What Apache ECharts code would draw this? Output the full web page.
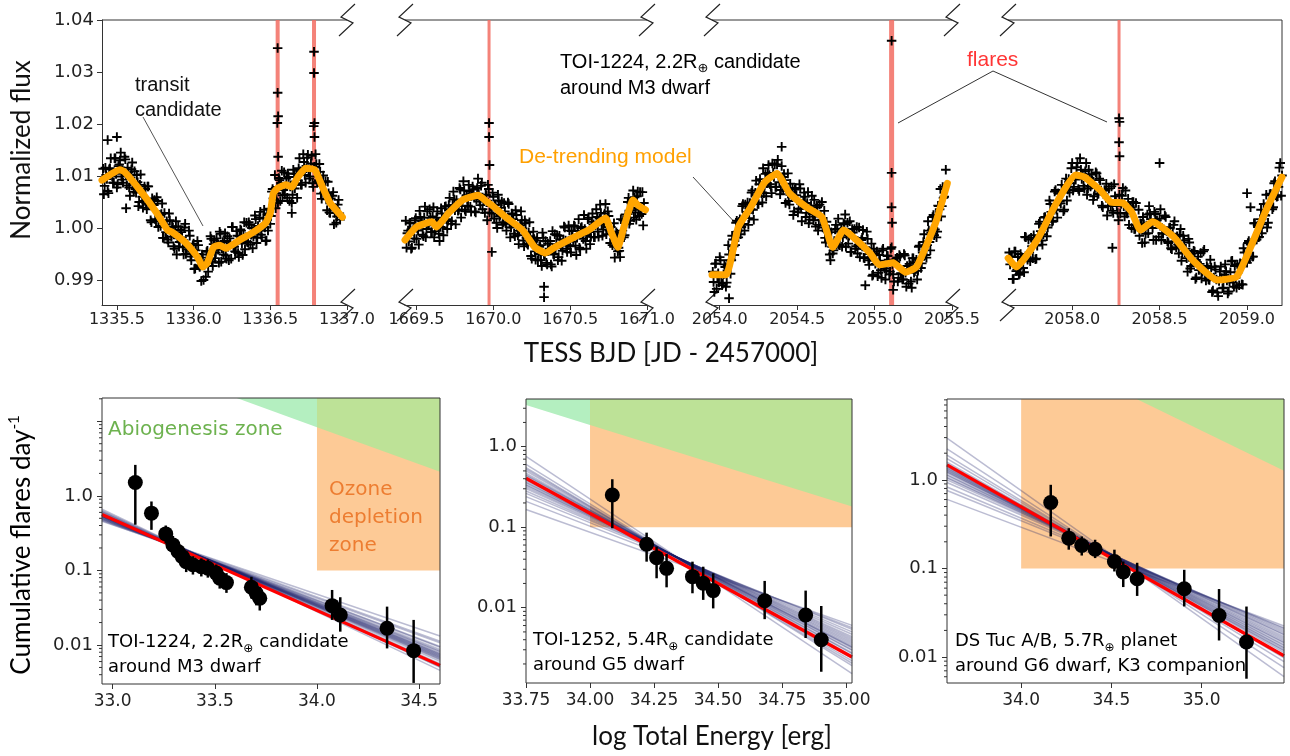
<!DOCTYPE html>
<html><head><meta charset="utf-8">
<script src="https://cdn.jsdelivr.net/npm/echarts/dist/echarts.min.js"></script>
<style>html,body{margin:0;padding:0;background:#fff}#c{width:1290px;height:756px}</style>
</head><body><div id="c"></div>
<script>
// ================= DATA =================
// Light curves: regular 0.01-day cadence (two interleaved sets), flux stored as (flux-1) in parts per thousand
const lc1_start = 1335.41, lc1_step = 0.01;
const lc1_ppt = [11.4,8.1,10.2,7.1,11.3,13.4,9.9,8.7,13.4,7.8,
11.9,13.0,9.9,8.7,13.7,10.3,11.6,7.8,9.7,12.6,
7.0,7.5,10.2,4.2,8.3,6.9,3.9,8.0,4.7,8.0,
4.5,1.5,5.7,4.4,1.7,5.9,0.2,2.5,2.7,-1.9,
2.9,-0.8,-2.2,2.8,-0.8,0.3,-3.5,-0.4,-5.1,0.3,
-2.7,-0.8,-3.7,0.1,-5.0,-3.1,-0.5,-5.5,-4.6,-3.0,
-7.8,-5.0,-3.3,-7.5,-10.2,-5.7,-7.1,-9.4,-4.4,-6.6,
-1.6,-6.4,-3.1,-5.8,-2.0,-4.2,-0.7,-6.5,-2.7,-2.5,
-5.3,-1.6,-6.2,-3.0,0.2,-3.5,-4.5,-0.6,-4.8,-1.6,
-0.5,-5.2,1.1,-1.8,-2.7,1.1,-3.2,0.0,-1.7,2.4,
-2.9,0.4,2.0,-1.3,0.2,3.5,-2.5,2.8,2.5,0.8,
7.0,5.7,10.2,6.7,4.8,9.2,8.7,6.3,10.7,8.0,
5.8,9.8,8.0,4.8,11.2,7.6,10.4,9.2,13.4,8.3,
11.2,12.7,8.7,13.5,11.3,9.9,13.9,7.9,11.8,12.3,
8.8,12.3,6.6,8.8,6.8,9.0,3.4,6.7,2.9,4.5,
6.9,2.9,1.0,4.5,2.8];
const lc1b_start = 1335.415, lc1b_step = 0.01;
const lc1b_ppt = [6.5,11.6,9.4,6.7,11.5,10.5,8.7,13.4,10.4,8.4,
12.2,14.5,9.3,10.9,13.2,8.2,10.7,6.2,11.3,8.5,
10.9,6.8,8.8,5.0,10.3,6.0,5.2,7.5,3.6,8.0,
4.6,1.1,4.6,5.4,1.3,5.2,1.7,0.4,4.7,-1.9,
0.7,1.3,-2.8,1.5,-1.7,0.1,-4.0,1.3,-2.0,-3.6,
-0.4,-1.8,-5.1,0.8,-4.1,-3.5,-1.5,-6.2,-3.3,-7.9,
-4.3,-2.5,-7.2,-7.2,-5.1,-10.0,-6.9,-4.6,-8.4,-6.0,
-2.1,-7.3,-2.4,-4.7,-2.9,-6.7,-1.1,-3.9,-5.1,-1.0,
-5.9,-3.6,-2.0,-5.9,0.2,-3.6,-4.6,-1.5,-5.6,-0.3,
-3.0,-1.5,-4.1,1.0,-2.8,0.6,-1.3,-3.9,0.0,1.7,
-1.9,-0.4,3.1,-1.8,1.8,0.1,-2.4,-0.5,3.7,2.3,
7.5,5.4,3.8,7.9,9.6,5.2,11.0,7.3,6.4,9.5,
10.5,5.2,8.2,6.4,10.4,8.6,5.8,11.5,10.9,8.3,
14.2,10.2,11.5,14.1,9.5,12.4,8.6,11.7,14.2,8.9,
9.2,10.8,5.6,10.1,6.8,5.5,8.9,3.0,5.7,6.2,
0.7,3.8,2.2,5.4,1.6];
const lc2_start = 1669.43, lc2_step = 0.01;
const lc2_ppt = [1.4,-1.0,-2.6,1.0,-3.8,-0.2,1.5,-2.1,-0.5,3.3,
0.6,-1.3,2.0,-1.8,3.2,0.5,2.0,-0.8,4.0,-0.6,
2.0,1.1,-2.5,3.8,0.1,1.8,4.2,-0.2,4.4,3.6,
1.3,7.0,3.4,5.4,3.3,7.7,2.0,5.4,7.2,3.2,
5.4,8.3,4.1,6.7,7.4,3.2,5.5,9.5,5.1,8.1,
3.6,5.6,6.4,1.5,7.5,4.2,2.8,6.0,4.4,1.0,
6.4,2.2,3.9,0.6,4.8,0.9,1.7,4.6,-1.8,2.8,
1.7,-1.6,2.5,-1.4,-0.5,3.2,-0.1,-3.5,0.9,-3.0,
-0.8,-1.6,-5.9,-0.7,-4.5,-2.4,-6.2,-3.6,-6.2,-0.9,
-5.2,-2.5,-7.0,-4.3,-2.5,-7.4,-5.0,-1.2,-3.1,-6.2,
-1.5,-3.4,-4.4,0.3,-2.4,-4.6,0.5,-3.5,-0.6,-2.6,
0.3,-5.2,-0.5,-3.8,0.0,-1.1,2.5,-2.5,-1.4,2.0,
-3.1,1.2,0.7,-1.8,3.6,-0.7,1.8,2.9,-1.5,1.3,
4.6,0.2,2.3,-2.9,-1.0,-0.7,-5.7,-0.8,-4.5,-4.4,
1.7,-0.5,-1.8,2.6,1.8,5.8,1.4,3.4,7.2,5.9,
1.6,7.0,2.3,3.5,6.9,4.8];
const lc2b_start = 1669.435, lc2b_step = 0.01;
const lc2b_ppt = [-3.8,-0.5,0.9,-4.0,-0.6,-2.0,1.9,-0.1,-3.2,2.1,
1.3,-1.6,4.1,-0.2,0.9,3.6,-0.8,2.2,-1.8,0.9,
3.2,-1.1,0.2,2.8,-1.4,4.1,1.7,1.4,5.8,0.8,
4.4,5.5,0.7,4.4,3.5,7.4,4.2,9.0,3.5,6.3,
4.3,7.1,3.1,8.0,5.8,3.0,7.7,6.6,4.4,8.7,
5.3,2.9,6.3,8.3,3.0,4.5,6.8,1.8,4.5,0.0,
5.3,2.5,5.1,1.1,3.2,-0.5,4.9,0.8,0.1,2.6,
-1.1,3.4,0.2,-3.1,0.5,1.5,-2.4,1.5,-1.9,-3.2,
1.1,-5.4,-2.7,-2.1,-6.1,-1.9,-5.0,-3.3,-7.3,-1.9,
-5.1,-6.7,-3.0,-4.0,-7.0,-0.6,-5.1,-3.9,-1.4,-5.6,
-2.2,-6.3,-2.2,0.1,-4.0,-3.3,-0.5,-4.7,-1.7,0.5,
-3.4,-1.6,1.7,-4.1,0.2,-2.1,-0.2,-4.0,1.7,-0.8,
-1.7,2.8,-1.8,0.5,2.1,-1.7,4.5,0.7,-0.3,2.8,
-1.2,3.2,-0.5,0.2,-3.3,0.9,-3.6,-1.1,-3.8,-5.6,
-1.0,1.5,-1.4,0.8,5.0,0.8,4.9,3.9,2.0,3.0,
6.1,3.8,6.9,2.7,0.5];
const lc3_start = 2053.96, lc3_step = 0.01;
const lc3_ppt = [-10.4,-6.9,-11.7,-8.7,-5.6,-9.5,-10.7,-7.0,-11.3,-7.2,
-5.1,-8.8,-1.5,-3.5,-3.3,1.4,-1.8,1.7,0.2,4.6,
-0.5,3.1,4.9,1.9,3.6,7.2,1.6,6.8,6.3,4.6,
9.4,6.7,11.5,8.1,6.1,10.6,10.2,7.9,12.4,9.8,
7.9,12.2,10.0,6.5,11.9,7.3,9.2,7.1,10.5,4.5,
6.9,7.7,3.2,7.7,5.4,3.7,7.6,1.3,5.1,6.0,
2.9,6.9,1.6,4.3,2.7,5.4,0.3,4.0,0.6,2.4,
5.0,0.5,-1.9,1.2,-0.9,-5.1,-0.8,-4.9,-2.5,0.6,
-0.2,-3.2,-0.7,-3.6,0.9,2.6,-1.3,-3.0,1.3,-4.6,
-0.9,-0.2,-3.5,-4.9,0.1,-3.3,-1.9,-5.7,-3.7,-0.7,
-6.2,-5.6,-3.0,-9.0,-4.9,-6.3,-9.3,-5.2,-8.1,-4.3,
-7.4,-9.9,-5.3,-6.1,-8.4,-3.7,-8.9,-6.4,-5.9,-10.3,
-5.2,-8.7,-9.9,-5.0,-8.6,-7.3,-10.7,-7.2,-11.5,-5.8,
-8.3,-6.1,-8.2,-3.4,-7.7,-4.7,-1.2,-5.2,-3.3,-0.5,
-4.3,-0.3,2.5,-0.3,-1.8,4.3,3.6,2.2,7.9,6.0,
11.2];
const lc3b_start = 2053.955, lc3b_step = 0.01;
const lc3b_ppt = [-8.4,-12.3,-6.8,-9.4,-10.5,-6.2,-11.0,-8.9,-7.5,-10.5,
-3.3,-6.2,-6.2,-2.2,-5.2,1.0,-0.7,1.2,-1.2,4.2,
0.8,4.5,2.9,0.6,4.8,6.8,3.5,5.3,9.1,4.6,
8.4,7.0,4.9,6.7,10.4,8.6,12.1,8.4,6.7,10.6,
12.2,7.9,13.1,8.8,7.3,9.8,10.4,4.8,7.4,5.2,
8.5,5.9,2.5,7.4,6.3,3.0,8.4,3.7,4.5,6.8,
2.1,4.8,0.9,3.8,6.2,1.5,2.2,4.3,-0.5,4.5,
1.6,0.1,3.3,-2.8,-0.3,-0.3,-6.2,-3.6,-4.3,-0.3,
-3.2,1.8,-3.3,-0.2,-1.8,0.7,-3.6,1.0,-1.5,-4.6,
-0.2,-1.7,-4.0,0.2,-3.2,-5.6,-2.3,-0.4,-5.8,-4.3,
-2.1,-7.1,-4.6,-9.2,-4.0,-6.9,-4.5,-8.6,-6.3,-9.6,
-4.0,-7.8,-8.2,-5.4,-8.9,-4.0,-7.0,-10.3,-6.6,-5.7,
-9.6,-5.5,-8.8,-9.9,-5.3,-11.3,-8.0,-6.9,-10.3,-5.8,
-8.6,-6.6,-9.9,-3.6,-6.1,-6.8,-2.7,-3.3,-5.7,1.3,
-2.7,-0.9,2.1,-1.4,2.5,-0.7,4.2,7.5,4.2,5.8];
const lc4_start = 2057.64, lc4_step = 0.01;
const lc4_ppt = [-4.7,-5.5,-9.8,-4.5,-8.3,-5.6,-8.8,-5.6,-7.7,-1.7,
-5.5,-2.2,-6.4,-3.5,-1.4,-6.0,-3.4,0.8,-0.6,-3.2,
2.0,0.6,0.1,5.3,3.1,1.4,7.0,3.5,6.7,5.1,
8.3,3.2,8.2,5.3,9.4,8.6,12.5,7.9,9.3,12.5,
7.1,11.2,10.4,7.6,12.5,7.6,9.6,10.3,5.4,7.7,
10.5,6.6,9.2,4.3,6.5,7.2,2.4,7.6,4.2,3.3,
8.4,5.2,2.9,6.4,4.6,7.7,2.2,2.9,5.6,4.2,
0.0,5.0,-0.2,0.5,3.5,0.9,-2.9,0.7,-1.1,2.6,
4.2,1.7,0.0,3.1,-2.3,0.8,1.8,-2.3,-1.1,2.4,
-0.6,-2.9,0.1,-4.1,0.6,-2.6,-1.6,-4.9,-0.2,-4.8,
-2.4,-4.0,-8.4,-2.8,-7.3,-6.3,-4.5,-9.5,-5.5,-6.9,
-9.7,-4.5,-8.7,-7.3,-9.9,-6.1,-12.3,-9.5,-8.0,-12.4,
-10.2,-7.4,-11.6,-9.0,-8.3,-12.6,-10.3,-6.4,-10.5,-7.3,
-11.5,-8.5,-6.8,-10.8,-3.9,-6.2,-6.7,-2.5,-3.2,-5.5,
0.9,-2.2,0.5,-1.7,3.5,0.7,2.5,6.4,1.0,6.5,
6.3,4.0,9.0,6.0,7.9,12.5,10.1];
const lc4b_start = 2057.645, lc4b_step = 0.01;
const lc4b_ppt = [-7.0,-5.5,-9.8,-4.5,-8.0,-9.0,-5.0,-5.8,-8.5,-1.8,
-6.1,-4.7,-1.9,-5.8,-2.2,-5.9,-1.6,1.2,-2.4,-1.2,
2.1,-1.6,1.9,4.6,1.2,3.5,7.3,2.0,6.6,4.7,
6.9,3.5,9.5,7.4,6.8,11.5,7.2,9.8,11.7,7.5,
13.4,9.4,8.1,10.9,6.4,11.2,8.0,9.2,6.1,10.7,
6.5,9.5,7.2,4.0,7.3,8.5,4.2,5.1,8.0,2.9,
6.1,4.2,1.5,2.8,6.2,4.2,7.2,2.8,0.6,3.9,
5.0,-0.2,4.8,0.2,-1.5,0.8,2.1,-2.8,0.5,-1.0,
2.8,0.7,-2.3,2.7,1.5,-1.7,3.6,-1.0,-0.3,2.1,
-2.6,0.0,-3.9,-1.1,1.3,-3.7,-3.2,-1.3,-6.3,-1.5,
-4.7,-5.8,-2.1,-7.8,-4.9,-4.4,-9.8,-6.6,-8.1,-4.8,
-8.4,-4.2,-10.1,-7.7,-10.0,-7.6,-12.0,-7.4,-9.9,-13.1,
-8.4,-9.6,-11.5,-7.0,-10.1,-12.2,-8.5,-6.3,-11.3,-9.6,
-7.0,-11.0,-7.4,-10.9,-4.7,-6.4,-2.9,-5.9,-2.9,-5.5,
0.9,-2.2,-1.8,1.7,-1.0,4.6,2.4,0.1,4.7,6.6,
3.6,8.6,6.3,6.1,11.6,6.2];

// flare points and outliers [time, ppt]
const lc1_extra = [[1336.548,34.6],[1336.548,26.0],[1336.551,21.5],[1336.546,20.2],[1336.551,13.7],[1336.785,33.9],[1336.785,29.8],[1336.788,20.2],[1336.783,19.6],[1336.788,17.5],[1335.44,16.9],[1335.50,17.5],[1335.56,3.8],[1336.64,2.9]];
const lc2_extra = [[1669.972,20.2],[1669.972,17.5],[1669.975,12.1],[1670.33,-11.3],[1670.33,-13.3],[1669.99,-4.6]];
const lc3_extra = [[2055.11,36.0],[2055.11,10.6],[2055.11,4.0],[2055.113,1.0],[2054.06,-13.5],[2054.94,-11.0],[2055.12,-11.9],[2054.40,15.6]];
const lc4_extra = [[2058.268,21.1],[2058.271,20.4],[2058.268,16.5],[2058.271,13.8],[2058.50,12.5],[2059.00,6.7],[2059.02,4.0],[2058.23,-3.8]];

// de-trending model knots
const lc1_model_t = [1335.403,1335.52,1335.55,1335.65,1335.76,1335.83,1335.86,1335.95,1336.03,1336.06,1336.09,1336.13,1336.17,1336.21,1336.30,1336.38,1336.47,1336.50,1336.52,1336.55,1336.60,1336.64,1336.68,1336.73,1336.79,1336.84,1336.89,1336.97];
const lc1_model_ppt = [9.2,11.2,10.8,7.3,2.9,-0.4,-0.8,-2.9,-5.8,-7.5,-6.7,-3.7,-3.3,-3.9,-2.3,-1.0,1.0,2.9,6.7,7.7,8.3,7.9,9.8,11.5,11.2,7.9,4.8,2.1];
const lc2_model_t = [1669.425,1669.50,1669.60,1669.63,1669.71,1669.80,1669.90,1669.96,1669.99,1670.08,1670.19,1670.27,1670.34,1670.40,1670.53,1670.62,1670.73,1670.77,1670.81,1670.85,1670.91,1670.94,1670.99];
const lc2_model_ppt = [-2.3,0.2,1.2,0.2,2.9,5.4,6.3,5.0,4.4,2.1,-0.4,-3.7,-4.8,-3.7,-1.7,-0.4,1.9,-1.0,-3.7,0.2,5.4,4.4,3.5];
const lc3_model_t = [2053.95,2054.04,2054.12,2054.20,2054.29,2054.37,2054.45,2054.56,2054.66,2054.73,2054.80,2054.86,2054.97,2055.03,2055.12,2055.20,2055.27,2055.33,2055.40,2055.47];
const lc3_model_ppt = [-9.0,-9.0,0.2,4.0,8.8,10.5,6.7,4.0,2.1,-3.7,-0.4,-1.7,-4.8,-7.1,-6.7,-8.5,-7.5,-3.7,1.5,8.6];
const lc4_model_t = [2057.634,2057.68,2057.80,2057.91,2058.02,2058.07,2058.16,2058.22,2058.29,2058.34,2058.39,2058.46,2058.58,2058.69,2058.83,2058.94,2059.02,2059.11,2059.20];
const lc4_model_ppt = [-5.8,-7.5,-2.3,4.8,10.2,9.8,7.3,5.0,4.8,3.1,-0.4,1.2,-1.7,-6.2,-10.0,-9.4,-3.7,3.5,9.8];

const flares1 = [1336.548, 1336.785];
const flares2 = [1669.972];
const flares3 = [2055.11];
const flares4 = [2058.268];

// tick labels
const fluxTicks = [0.99, 1.00, 1.01, 1.02, 1.03, 1.04];
const bjdTicks1 = [1335.5, 1336.0, 1336.5, 1337.0];
const bjdTicks2 = [1669.5, 1670.0, 1670.5, 1671.0];
const bjdTicks3 = [2054.0, 2054.5, 2055.0, 2055.5];
const bjdTicks4 = [2058.0, 2058.5, 2059.0];
const eTicksA = [33.0, 33.5, 34.0, 34.5];
const eTicksB = [33.75, 34.00, 34.25, 34.50, 34.75, 35.00];
const eTicksC = [34.0, 34.5, 35.0];
const rateTicks = [0.01, 0.1, 1, 10];

// Flare frequency distributions
const A_energy = [33.111,33.19,33.26,33.295,33.32,33.341,33.36,33.393,33.434,33.466,33.507,33.524,33.557,33.679,33.703,33.72,34.074,34.114,34.343,34.473];
const A_rate = [1.51,0.586,0.309,0.22,0.179,0.153,0.131,0.119,0.112,0.107,0.092,0.0785,0.0687,0.0595,0.0494,0.0424,0.0337,0.0253,0.0168,0.0084];
const A_lo = [0.41,0.35,0.23,0.16,0.13,0.11,0.095,0.088,0.083,0.08,0.068,0.057,0.05,0.042,0.034,0.029,0.0217,0.0151,0.009,0.0031];
const A_hi = [2.6,0.84,0.4,0.29,0.235,0.2,0.175,0.155,0.145,0.14,0.12,0.105,0.092,0.082,0.069,0.06,0.0547,0.0437,0.0327,0.0217];
const B_energy = [34.087,34.221,34.26,34.299,34.40,34.442,34.481,34.682,34.842,34.903];
const B_rate = [0.251,0.0613,0.0418,0.0308,0.0243,0.0201,0.0163,0.0122,0.0081,0.0040];
const B_lo = [0.097,0.0373,0.0232,0.0179,0.0151,0.0125,0.0098,0.0072,0.0042,0.0016];
const B_hi = [0.394,0.0855,0.0573,0.0465,0.0373,0.0323,0.0267,0.0215,0.0163,0.0105];
const C_energy = [34.164,34.264,34.336,34.41,34.517,34.566,34.643,34.904,35.097,35.249];
const C_rate = [0.555,0.22,0.182,0.165,0.12,0.0912,0.0767,0.059,0.0295,0.0148];
const C_lo = [0.23,0.163,0.14,0.131,0.0925,0.0617,0.049,0.0373,0.0154,0.0057];
const C_hi = [0.88,0.285,0.23,0.211,0.163,0.12,0.116,0.0966,0.0586,0.0372];

// best-fit power laws (endpoints: energy, rate)
const fitA_E = [32.948, 34.602], fitA_R = [0.562, 0.00533];
const fitB_E = [33.75, 35.023], fitB_R = [0.405, 0.00244];
const fitC_E = [33.589, 35.457], fitC_R = [1.476, 0.01035];

// posterior samples (log10 rate at the two panel edges)
const postA_logL = [-0.27,-0.25,-0.29,-0.23,-0.31,-0.26,-0.28,-0.21,-0.33,-0.27,-0.24,-0.30,-0.18,-0.34,-0.26,-0.28,-0.22,-0.29,-0.25,-0.31,-0.27,-0.20,-0.32,-0.26];
const postA_logR = [-2.14,-2.20,-2.09,-2.25,-2.03,-2.17,-2.12,-2.30,-1.97,-2.15,-2.22,-2.06,-2.34,-1.88,-2.18,-2.11,-2.27,-2.08,-2.19,-2.02,-2.13,-2.29,-1.95,-2.16];
const postB_logL = [-0.42,-0.36,-0.48,-0.30,-0.55,-0.40,-0.45,-0.22,-0.62,-0.38,-0.50,-0.33,-0.12,-0.78,-0.44,-0.28,-0.58,-0.41,-0.35,-0.47,-0.26,-0.68,-0.39,-0.52];
const postB_logR = [-2.48,-2.56,-2.40,-2.63,-2.33,-2.50,-2.44,-2.72,-2.27,-2.53,-2.38,-2.60,-2.82,-2.22,-2.46,-2.66,-2.30,-2.49,-2.57,-2.42,-2.69,-2.25,-2.52,-2.36];
const postC_logL = [0.10,0.15,0.05,0.20,0.00,0.12,0.08,0.28,-0.08,0.14,0.03,0.18,0.47,-0.22,0.11,0.06,0.24,-0.03,0.16,0.09,0.35,-0.12,0.13,0.02];
const postC_logR = [-1.84,-1.92,-1.77,-1.98,-1.72,-1.87,-1.81,-2.05,-1.68,-1.90,-1.75,-1.95,-2.22,-1.65,-1.86,-1.79,-2.01,-1.70,-1.93,-1.83,-2.12,-1.67,-1.89,-1.74];

// habitability zones: ozone depletion (E >= ozE, rate >= ozR), abiogenesis boundary line (two points)
const zoneA_oz = [34.0, 0.1], zoneA_abioE = [33.607, 34.602], zoneA_abioR = [20.5, 2.1];
const zoneB_oz = [34.0, 0.1], zoneB_abioE = [33.75, 35.016], zoneB_abioR = [3.3, 0.183];
const zoneC_oz = [34.0, 0.1], zoneC_abioE = [34.64, 35.457], zoneC_abioR = [8.18, 1.27];

// ================= LAYOUT / BUILD =================
const TOP_Y = [0.98519, 1.04];
const TOP = [
  {g:[102,20,245,285], x:[1335.403,1337.0], ticks:bjdTicks1, sets:[[lc1_start,lc1_step,lc1_ppt],[lc1b_start,lc1b_step,lc1b_ppt]], ex:lc1_extra, mt:lc1_model_t, mf:lc1_model_ppt, fl:flares1, fw:4},
  {g:[405,20,242,285], x:[1669.425,1671.0], ticks:bjdTicks2, sets:[[lc2_start,lc2_step,lc2_ppt],[lc2b_start,lc2b_step,lc2b_ppt]], ex:lc2_extra, mt:lc2_model_t, mf:lc2_model_ppt, fl:flares2, fw:3},
  {g:[712,20,240,285], x:[2053.95,2055.5], ticks:bjdTicks3, sets:[[lc3_start,lc3_step,lc3_ppt],[lc3b_start,lc3b_step,lc3b_ppt]], ex:lc3_extra, mt:lc3_model_t, mf:lc3_model_ppt, fl:flares3, fw:5},
  {g:[1008,20,274,285], x:[2057.633,2059.2], ticks:bjdTicks4, sets:[[lc4_start,lc4_step,lc4_ppt],[lc4b_start,lc4b_step,lc4b_ppt]], ex:lc4_extra, mt:lc4_model_t, mf:lc4_model_ppt, fl:flares4, fw:3}
];
const BOT = [
  {g:[102,398,338,286], x:[32.948,34.602], y:[0.0030,20.5], ticks:eTicksA, dec:1, E:A_energy, R:A_rate, lo:A_lo, hi:A_hi, fE:fitA_E, fR:fitA_R, pL:postA_logL, pR:postA_logR, oz:zoneA_oz, aE:zoneA_abioE, aR:zoneA_abioR},
  {g:[526,399,326,284], x:[33.75,35.023], y:[0.00116,3.91], ticks:eTicksB, dec:2, E:B_energy, R:B_rate, lo:B_lo, hi:B_hi, fE:fitB_E, fR:fitB_R, pL:postB_logL, pR:postB_logR, oz:zoneB_oz, aE:zoneB_abioE, aR:zoneB_abioR},
  {g:[947,399,337,284], x:[33.589,35.457], y:[0.0051,8.18], ticks:eTicksC, dec:1, E:C_energy, R:C_rate, lo:C_lo, hi:C_hi, fE:fitC_E, fR:fitC_R, pL:postC_logL, pR:postC_logR, oz:zoneC_oz, aE:zoneC_abioE, aR:zoneC_abioR}
];

const AXC = '#333', LBL = '#222', TF = 'DejaVu Sans';
const plusSym = 'path://M4,0H6V4H10V6H6V10H4V6H0V4H4Z';
const ppt = v => 1 + v / 1000;
const grids = [], xAxes = [], yAxes = [], series = [], graphics = [];

TOP.forEach((p, k) => {
  grids.push({left:p.g[0], top:p.g[1], width:p.g[2], height:p.g[3], show:false});
  xAxes.push({gridIndex:k, type:'value', min:p.x[0], max:p.x[1],
    axisLine:{show:true, onZero:false, lineStyle:{color:AXC, width:1}},
    axisTick:{show:true, customValues:p.ticks, length:5, lineStyle:{color:AXC}},
    axisLabel:{show:true, customValues:p.ticks, formatter:v => v.toFixed(1), fontFamily:TF, fontSize:16, color:LBL, margin:7},
    splitLine:{show:false}});
  yAxes.push({gridIndex:k, type:'value', min:TOP_Y[0], max:TOP_Y[1],
    axisLine:{show:k === 0, onZero:false, lineStyle:{color:AXC}},
    axisTick:{show:k === 0, customValues:fluxTicks, length:5, lineStyle:{color:AXC}},
    axisLabel:{show:k === 0, customValues:fluxTicks, formatter:v => v.toFixed(2), fontFamily:TF, fontSize:18, color:LBL, margin:8},
    splitLine:{show:false}});
  p.fl.forEach(t => series.push({type:'line', xAxisIndex:k, yAxisIndex:k, data:[[t, TOP_Y[0]], [t, TOP_Y[1]]],
    symbol:'none', silent:true, z:1, lineStyle:{color:'rgba(242,108,98,0.85)', width:p.fw}}));
  p.sets.forEach(s => series.push({type:'scatter', xAxisIndex:k, yAxisIndex:k, symbol:plusSym, symbolSize:9.5, silent:true, z:2,
    itemStyle:{color:'#000', opacity:1}, data:s[2].map((v, i) => [s[0] + i * s[1], ppt(v)])}));
  series.push({type:'scatter', xAxisIndex:k, yAxisIndex:k, symbol:plusSym, symbolSize:9.5, silent:true, z:2,
    itemStyle:{color:'#000', opacity:1}, data:p.ex.map(d => [d[0], ppt(d[1])])});
  series.push({type:'line', xAxisIndex:k, yAxisIndex:k, symbol:'none', silent:true, z:3, smooth:0.15,
    lineStyle:{color:'#FFA500', width:7, join:'round', cap:'round'}, data:p.mt.map((t, i) => [t, ppt(p.mf[i])])});
  graphics.push({type:'line', silent:true, shape:{x1:p.g[0], y1:p.g[1], x2:p.g[0] + p.g[2], y2:p.g[1]}, style:{stroke:AXC, lineWidth:1}});
});
graphics.push({type:'line', silent:true, shape:{x1:1282, y1:20, x2:1282, y2:305}, style:{stroke:AXC, lineWidth:1}});
function zz(cx, cy) {
  graphics.push({type:'polyline', silent:true, shape:{points:[[cx + 8, cy - 16], [cx - 6, cy - 3], [cx + 6, cy + 3], [cx - 8, cy + 16]]},
    style:{stroke:'#222', lineWidth:1.2, fill:null}});
}
[347, 405, 647, 712, 952, 1008].forEach(x => { zz(x, 20); zz(x, 305); });

function zoneItem(p) {
  return function (params, api) {
    const cs = params.coordSys;
    const L = cs.x, Rr = cs.x + cs.width, T = cs.y;
    const q0 = api.coord([p.aE[0], p.aR[0]]);
    const q1 = api.coord([p.aE[1], p.aR[1]]);
    const ly = X => q0[1] + (q1[1] - q0[1]) * (X - q0[0]) / (q1[0] - q0[0]);
    const xi = q0[0] + (T - q0[1]) * (q1[0] - q0[0]) / (q1[1] - q0[1]);
    const oz = api.coord([p.oz[0], p.oz[1]]);
    const region = (xl, xr) => {
      const s = Math.max(xl, xi);
      if (s >= xr) return null;
      return [[s, Math.max(T, ly(s))], [xr, ly(xr)], [xr, T], [s, T]];
    };
    const ch = [{type:'rect', shape:{x:oz[0], y:T, width:Rr - oz[0], height:oz[1] - T}, style:{fill:'#FDCA96'}}];
    const m = region(L, oz[0]);
    if (m) ch.push({type:'polygon', shape:{points:m}, style:{fill:'#B4EFC0'}});
    const o = region(oz[0], Rr);
    if (o) ch.push({type:'polygon', shape:{points:o}, style:{fill:'#BDE297'}});
    return {type:'group', children:ch};
  };
}

BOT.forEach((p, j) => {
  const gi = 4 + j;
  grids.push({left:p.g[0], top:p.g[1], width:p.g[2], height:p.g[3], show:false});
  xAxes.push({gridIndex:gi, type:'value', min:p.x[0], max:p.x[1],
    axisLine:{show:false},
    axisTick:{show:true, customValues:p.ticks, length:5, lineStyle:{color:AXC}},
    axisLabel:{show:true, customValues:p.ticks, formatter:v => v.toFixed(p.dec), fontFamily:TF, fontSize:17, color:LBL, margin:9},
    splitLine:{show:false}});
  const majors = rateTicks.filter(v => v >= p.y[0] && v <= p.y[1]);
  yAxes.push({gridIndex:gi, type:'log', logBase:10, min:p.y[0], max:p.y[1],
    axisLine:{show:false},
    axisTick:{show:true, customValues:majors, length:5, lineStyle:{color:AXC}},
    axisLabel:{show:true, customValues:majors, fontFamily:TF, fontSize:18, color:LBL, margin:9,
      formatter:v => { const e = Math.round(Math.log10(v)); return e === -2 ? '0.01' : e === -1 ? '0.1' : e === 0 ? '1.0' : ''; }},
    splitLine:{show:false}});
  series.push({type:'custom', xAxisIndex:gi, yAxisIndex:gi, silent:true, z:1, renderItem:zoneItem(p), data:[[p.oz[0], p.oz[1]]]});
  series.push({type:'custom', xAxisIndex:gi, yAxisIndex:gi, silent:true, z:2, encode:{x:[0, 2], y:[1, 3]},
    data:p.pL.map((l, i) => [p.x[0], Math.pow(10, l), p.x[1], Math.pow(10, p.pR[i])]),
    renderItem:(params, api) => {
      const a = api.coord([api.value(0), api.value(1)]), b = api.coord([api.value(2), api.value(3)]);
      return {type:'line', shape:{x1:a[0], y1:a[1], x2:b[0], y2:b[1]}, style:{stroke:'rgba(30,34,105,0.3)', lineWidth:1.5}};
    }});
  series.push({type:'line', xAxisIndex:gi, yAxisIndex:gi, symbol:'none', silent:true, z:3,
    lineStyle:{color:'#FF0000', width:3.2}, data:[[p.fE[0], p.fR[0]], [p.fE[1], p.fR[1]]]});
  series.push({type:'custom', xAxisIndex:gi, yAxisIndex:gi, silent:true, z:4, encode:{x:0, y:[1, 2]},
    data:p.E.map((e, i) => [e, p.lo[i], p.hi[i]]),
    renderItem:(params, api) => {
      const a = api.coord([api.value(0), api.value(1)]), b = api.coord([api.value(0), api.value(2)]);
      return {type:'line', shape:{x1:a[0], y1:a[1], x2:b[0], y2:b[1]}, style:{stroke:'#000', lineWidth:2.5}};
    }});
  series.push({type:'scatter', xAxisIndex:gi, yAxisIndex:gi, symbol:'circle', symbolSize:15, silent:true, z:5,
    itemStyle:{color:'#000', opacity:1}, data:p.E.map((e, i) => [e, p.R[i]])});
  const minors = [];
  for (let d = -4; d <= 1; d++) for (let m = 2; m <= 9; m++) {
    const v = m * Math.pow(10, d);
    if (v > p.y[0] && v < p.y[1]) minors.push([p.x[0], v]);
  }
  series.push({type:'custom', xAxisIndex:gi, yAxisIndex:gi, silent:true, z:6, data:minors,
    renderItem:(params, api) => {
      const a = api.coord([api.value(0), api.value(1)]);
      return {type:'line', shape:{x1:a[0] - 3, y1:a[1], x2:a[0], y2:a[1]}, style:{stroke:AXC, lineWidth:1}};
    }});
  series.push({type:'custom', xAxisIndex:gi, yAxisIndex:gi, silent:true, z:7, data:[[p.x[0], p.y[0]]],
    renderItem:(params) => {
      const cs = params.coordSys;
      return {type:'rect', shape:{x:cs.x, y:cs.y, width:cs.width, height:cs.height}, style:{fill:null, stroke:AXC, lineWidth:1}};
    }});
});

// ---- texts ----
const AN = 'Liberation Sans', TT = 'Lato', DV = 'DejaVu Sans';
function txt(o) { graphics.push(Object.assign({type:'text', silent:true, z:100}, o)); }
txt({x:22, y:150, rotation:Math.PI / 2, style:{text:'Normalized flux', fontFamily:TT, fontSize:26, fill:'#111', align:'center', verticalAlign:'middle'}});
txt({x:671, y:354, style:{text:'TESS BJD [JD - 2457000]', fontFamily:TT, fontSize:26, fill:'#111', align:'center', verticalAlign:'middle'}});
txt({x:22, y:545, rotation:Math.PI / 2, style:{text:'{a|Cumulative flares day}{s|-1}', align:'center', verticalAlign:'middle',
  rich:{a:{fontFamily:TT, fontSize:26, color:'#111', lineHeight:30}, s:{fontFamily:TT, fontSize:15, color:'#111', verticalAlign:'top', lineHeight:30}}}});
txt({x:712, y:737, style:{text:'log Total Energy [erg]', fontFamily:TT, fontSize:26, fill:'#111', align:'center', verticalAlign:'middle'}});

txt({x:135, y:73, style:{text:'transit\ncandidate', fontFamily:AN, fontSize:20, fill:'#111', lineHeight:25, verticalAlign:'top'}});
graphics.push({type:'line', silent:true, shape:{x1:143, y1:117, x2:203, y2:226}, style:{stroke:'#555', lineWidth:1}});
txt({x:560, y:49, style:{text:'{a|TOI-1224, 2.2R}{s|⊕}{a| candidate}\n{a|around M3 dwarf}', verticalAlign:'top',
  rich:{a:{fontFamily:AN, fontSize:20, color:'#111', lineHeight:26}, s:{fontFamily:DV, fontSize:13, color:'#111', lineHeight:26, verticalAlign:'bottom'}}}});
txt({x:967, y:50, style:{text:'flares', fontFamily:AN, fontSize:21, fill:'#FF3535', verticalAlign:'top'}});
graphics.push({type:'polyline', silent:true, shape:{points:[[898, 123], [993, 71], [1107, 122]]}, style:{stroke:'#333', lineWidth:1, fill:null}});
txt({x:519, y:147, style:{text:'De-trending model', fontFamily:AN, fontSize:21, fill:'#FFA000', verticalAlign:'top'}});
graphics.push({type:'line', silent:true, shape:{x1:693, y1:177, x2:738, y2:226}, style:{stroke:'#444', lineWidth:1}});

txt({x:108, y:430, style:{text:'Abiogenesis zone', fontFamily:DV, fontSize:20, fill:'#6DB24F', verticalAlign:'middle'}});
txt({x:329, y:476, style:{text:'Ozone\ndepletion\nzone', fontFamily:DV, fontSize:20, fill:'#ED7D31', lineHeight:28, verticalAlign:'top'}});
const botLbl = [
  [108, 630, '{a|TOI-1224, 2.2R}{s|⊕}{a| candidate}\n{a|around M3 dwarf}'],
  [533, 628, '{a|TOI-1252, 5.4R}{s|⊕}{a| candidate}\n{a|around G5 dwarf}'],
  [955, 629, '{a|DS Tuc A/B, 5.7R}{s|⊕}{a| planet}\n{a|around G6 dwarf, K3 companion}']
];
botLbl.forEach(b => txt({x:b[0], y:b[1], style:{text:b[2], verticalAlign:'top',
  rich:{a:{fontFamily:DV, fontSize:18, color:'#111', lineHeight:25}, s:{fontFamily:DV, fontSize:12, color:'#111', lineHeight:25, verticalAlign:'bottom'}}}}));

const chart = echarts.init(document.getElementById('c'));
chart.setOption({animation:false, backgroundColor:'#fff', grid:grids, xAxis:xAxes, yAxis:yAxes, series:series, graphic:graphics});
</script></body></html>
